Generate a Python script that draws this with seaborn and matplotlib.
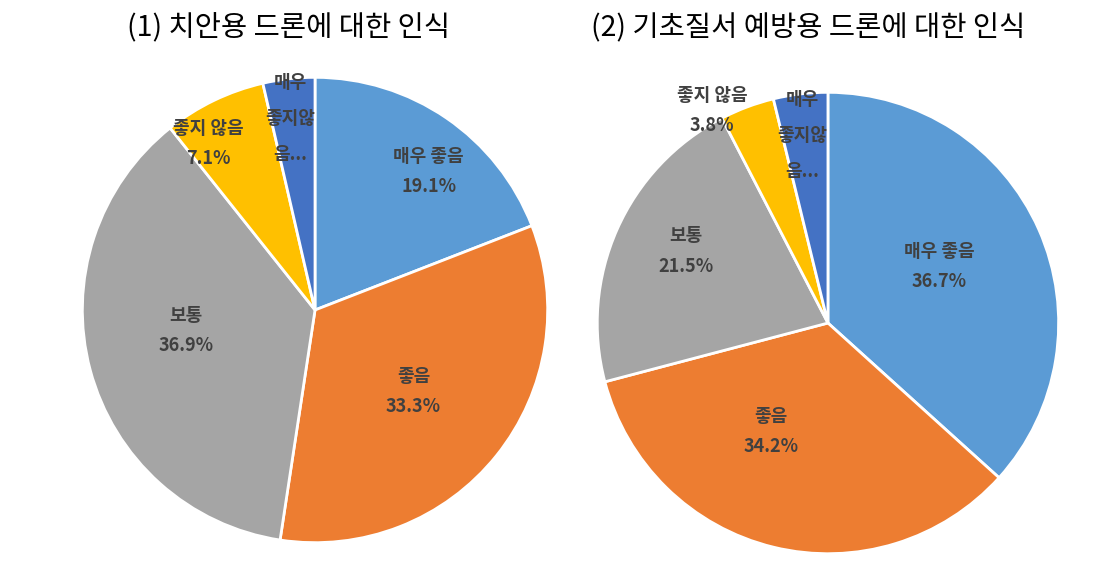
import numpy as np
import seaborn as sns
import matplotlib.pyplot as plt

categories = ["매우 좋음", "좋음", "보통", "좋지 않음", "매우 좋지않음"]
labels_shown = ["매우 좋음", "좋음", "보통", "좋지 않음", "매우\n좋지않\n음..."]
police = [19.1, 33.3, 36.9, 7.1, 3.6]
order = [36.7, 34.2, 21.5, 3.8, 3.8]
titles = ["(1) 치안용 드론에 대한 인식", "(2) 기초질서 예방용 드론에 대한 인식"]

# label placement (radius fraction, angle offset in degrees)
lab_dist = [[0.77, 0.55, 0.56, 0.85, 0.83], [0.54, 0.53, 0.69, 1.05, 0.82]]
lab_off = [[-5, -1, -6, 7, 1], [3, -14, -3, 8, 1]]

sns.set_theme(style="white")
plt.rcParams['font.family'] = ['Noto Sans CJK KR', 'DejaVu Sans']
colors = sns.color_palette(["#5B9BD5", "#ED7D31", "#A5A5A5", "#FFC000", "#4472C4"])

fig = plt.figure(figsize=(11.1, 5.76), dpi=100)
boxes = [[0.0721, 0.0538, 0.4234, 0.816], [0.536, 0.0347, 0.4198, 0.809]]
title_x = [0.26, 0.728]

for i, vals in enumerate([police, order]):
    ax = fig.add_axes(boxes[i])
    wedges, _ = ax.pie(vals, colors=colors, startangle=90, counterclock=False,
                       wedgeprops=dict(edgecolor="white", linewidth=2))
    ax.set_xlim(-1.01, 1.01)
    ax.set_ylim(-1.01, 1.01)
    ax.set_aspect("equal")
    for j, w in enumerate(wedges):
        mid = np.deg2rad((w.theta1 + w.theta2) / 2 + lab_off[i][j])
        d = lab_dist[i][j]
        if j == 4:
            txt = labels_shown[j]
            ls = 2.15
        else:
            txt = f"{labels_shown[j]}\n{vals[j]:.1f}%"
            ls = 1.75
        ax.text(d * np.cos(mid), d * np.sin(mid), txt, ha="center", va="center",
                fontsize=13, fontweight="bold", color="#404040", linespacing=ls)
    fig.text(title_x[i], 0.951, titles[i], ha="center", va="center",
             fontsize=20.5, color="black")

fig.savefig("out.png", dpi=100, facecolor="white")
